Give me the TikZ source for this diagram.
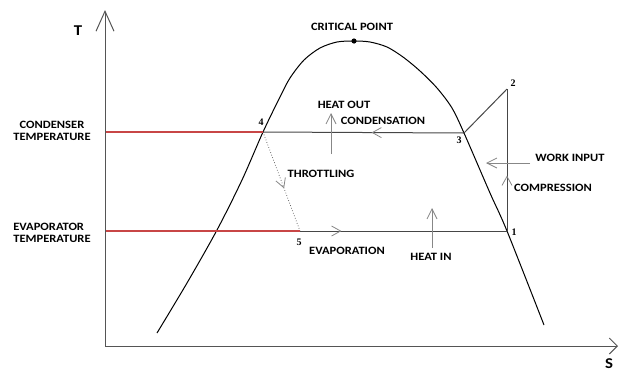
\documentclass[tikz,border=0pt]{standalone}
\usepackage{fontspec}
\setmainfont{Carlito}
\newfontfamily\lblfont[FakeStretch=1.12]{Carlito}
\newfontfamily\numfont{Liberation Serif}
\usetikzlibrary{arrows.meta,decorations.markings}
\definecolor{axisgray}{RGB}{85,85,85}
\definecolor{arrgray}{RGB}{135,135,135}
\definecolor{redline}{RGB}{200,70,70}
\definecolor{cyc}{RGB}{70,70,70}
\tikzset{
  lbl/.style={font=\lblfont\bfseries\fontsize{11.2}{13}\selectfont, inner sep=0pt, align=center},
  numlbl/.style={font=\numfont\bfseries\fontsize{10}{11}\selectfont, inner sep=0pt},
  axislbl/.style={font=\lblfont\bfseries\fontsize{15}{16}\selectfont, inner sep=0pt},
  barb/.style={-{Straight Barb[length=#1,width=#1]}},
  axisline/.style={draw=axisgray, line width=1pt},
  cycline/.style={draw=cyc, line width=1pt},
  redl/.style={draw=redline, line width=1.1pt},
  hint/.style={draw=arrgray, line width=0.8pt},
  midarrow/.style={postaction={decorate, decoration={markings,
      mark=at position #1 with {\arrow[arrgray, line width=0.8pt]{Straight Barb[length=9pt,width=10pt]}}}}},
}
\begin{document}
\begin{tikzpicture}[x=1pt,y=-1pt]
\useasboundingbox (0,0) rectangle (619,373);
% axes
\coordinate (O) at (105,346);
\coordinate (Ttop) at (105,10);
\coordinate (Send) at (618,346);
\draw[axisline, -{Straight Barb[length=20pt,width=18pt]}] (O) -- (Ttop);
\draw[axisline, -{Straight Barb[length=8pt,width=16pt]}] (O) -- (Send);
\node[axislbl] (T) at (78,31) {T};
\node[axislbl] (S) at (609,364) {S};
% cycle points
\coordinate (p1) at (507,231);
\coordinate (p2) at (507,89);
\coordinate (p3) at (464,133);
\coordinate (p4) at (263,132);
\coordinate (p5) at (300,231);
\coordinate (condT) at (106,132);
\coordinate (evapT) at (106,231);
% dome
\draw[black, line width=1pt] plot[smooth, tension=0.5] coordinates {(157,333) (187,283) (217,230) (242,180) (263,132) (280,97) (290,78) (304,60) (320,48) (337,42) (354,41) (370,42) (387,47) (403,57) (420,71) (437,88) (452,108) (464,133) (490,193) (507,231) (544,325)};
\coordinate (cp) at (354,41);
\fill (cp) circle (2.6);
% cycle lines
\draw[cycline, midarrow=0.46] (p3) -- (p4);
\draw[cycline, midarrow=0.2] (p5) -- (p1);
\draw[cycline, midarrow=0.39] (p1) -- (p2);
\draw[cycline] (p3) -- (p2);
\draw[draw=cyc, line width=0.7pt, dotted, midarrow=0.57] (p4) -- (p5);
% red temperature lines
\draw[redl] (condT) -- (p4);
\draw[redl] (evapT) -- (p5);
% heat arrows
\coordinate (hob) at (331,154);
\coordinate (hot) at (331,113);
\draw[hint, barb=10pt] (hob) -- (hot);
\coordinate (hib) at (432,248);
\coordinate (hit) at (432,208);
\draw[hint, barb=10pt] (hib) -- (hit);
\coordinate (wis) at (530,163);
\coordinate (wie) at (486,163);
\draw[hint, barb=10pt] (wis) -- (wie);
% labels
\node[lbl] (crit) at (352,27) {CRITICAL POINT};
\node[lbl] (cond) at (52,131) {CONDENSER\\[-1pt]TEMPERATURE};
\node[lbl, align=left] (evap) at (52,233) {EVAPORATOR\\[-1pt]TEMPERATURE};
\node[lbl] (hout) at (344,105) {HEAT OUT};
\node[lbl] (condn) at (383,121) {CONDENSATION};
\node[lbl] (thr) at (321,174) {THROTTLING};
\node[lbl] (evapn) at (347,251) {EVAPORATION};
\node[lbl] (hin) at (431,257) {HEAT IN};
\node[lbl] (work) at (570,158) {WORK INPUT};
\node[lbl] (comp) at (553,188) {COMPRESSION};
\node[numlbl] (n1) at (514,232) {1};
\node[numlbl] (n2) at (513,83) {2};
\node[numlbl] (n3) at (459,140) {3};
\node[numlbl] (n4) at (261,122) {4};
\node[numlbl] (n5) at (299,242) {5};
\end{tikzpicture}
\end{document}
